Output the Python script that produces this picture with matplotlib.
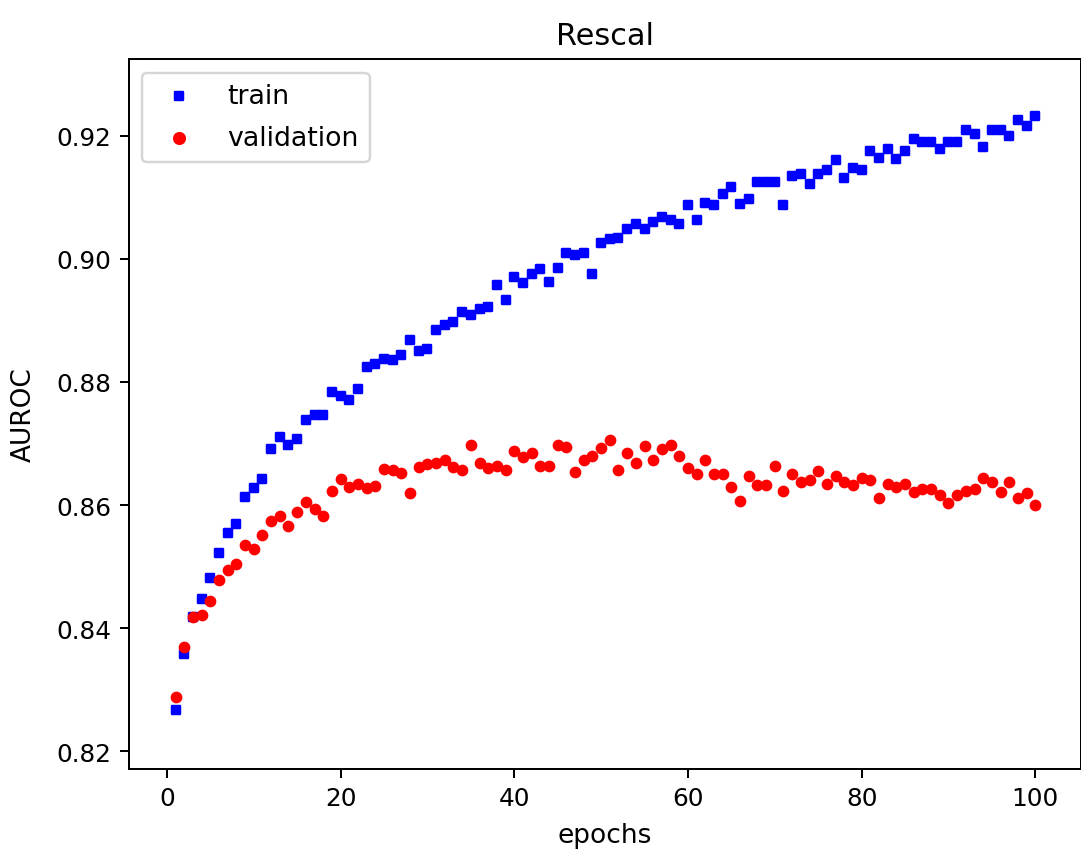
import numpy as np
import matplotlib
matplotlib.use('Agg')
import matplotlib.pyplot as plt

epochs = np.arange(1, 101)

train = [0.8267, 0.8359, 0.8419, 0.8448, 0.8482, 0.8523, 0.8554, 0.8569, 0.8613, 0.8628,
         0.8642, 0.8691, 0.8711, 0.8697, 0.8707, 0.8738, 0.8746, 0.8746, 0.8784, 0.8777,
         0.8770, 0.8788, 0.8825, 0.8830, 0.8838, 0.8835, 0.8844, 0.8868, 0.8850, 0.8854,
         0.8885, 0.8892, 0.8898, 0.8914, 0.8908, 0.8918, 0.8922, 0.8957, 0.8933, 0.8970,
         0.8961, 0.8976, 0.8983, 0.8962, 0.8985, 0.9010, 0.9006, 0.9010, 0.8975, 0.9025,
         0.9032, 0.9034, 0.9048, 0.9057, 0.9049, 0.9060, 0.9068, 0.9063, 0.9056, 0.9088,
         0.9063, 0.9090, 0.9087, 0.9106, 0.9117, 0.9089, 0.9097, 0.9125, 0.9125, 0.9125,
         0.9088, 0.9135, 0.9138, 0.9122, 0.9138, 0.9144, 0.9160, 0.9131, 0.9148, 0.9144,
         0.9175, 0.9163, 0.9179, 0.9162, 0.9175, 0.9194, 0.9190, 0.9190, 0.9179, 0.9190,
         0.9190, 0.9210, 0.9203, 0.9182, 0.9210, 0.9210, 0.9200, 0.9226, 0.9216, 0.9232]

validation = [0.8289, 0.8370, 0.8419, 0.8422, 0.8445, 0.8478, 0.8494, 0.8504, 0.8535, 0.8529,
              0.8551, 0.8575, 0.8583, 0.8566, 0.8589, 0.8605, 0.8594, 0.8583, 0.8623, 0.8642,
              0.8630, 0.8635, 0.8628, 0.8631, 0.8659, 0.8657, 0.8653, 0.8619, 0.8662, 0.8667,
              0.8669, 0.8673, 0.8662, 0.8657, 0.8697, 0.8668, 0.8661, 0.8664, 0.8657, 0.8688,
              0.8678, 0.8685, 0.8664, 0.8664, 0.8697, 0.8695, 0.8654, 0.8673, 0.8680, 0.8692,
              0.8705, 0.8657, 0.8685, 0.8668, 0.8696, 0.8673, 0.8691, 0.8698, 0.8680, 0.8661,
              0.8651, 0.8673, 0.8651, 0.8651, 0.8630, 0.8606, 0.8648, 0.8632, 0.8632, 0.8664,
              0.8623, 0.8651, 0.8638, 0.8641, 0.8655, 0.8635, 0.8648, 0.8638, 0.8633, 0.8644,
              0.8641, 0.8611, 0.8635, 0.8630, 0.8635, 0.8622, 0.8627, 0.8627, 0.8616, 0.8603,
              0.8616, 0.8623, 0.8626, 0.8644, 0.8638, 0.8622, 0.8638, 0.8612, 0.8619, 0.8600]

dpi = 178
fig = plt.figure(figsize=(1081 / dpi, 858 / dpi), dpi=dpi)
ax = fig.add_axes([128.7 / 1081, (858 - 769.7) / 858,
                   (1080.5 - 128.7) / 1081, (769.7 - 60.3) / 858])

ax.scatter(epochs, train, s=10, c='b', marker='s', label='train')
ax.scatter(epochs, validation, s=14, c='r', marker='o', label='validation')

ax.set_xlim(-4.4, 105.2)
ax.set_ylim(0.8172, 0.9324)
ax.set_yticks([0.82, 0.84, 0.86, 0.88, 0.90, 0.92])
ax.set_xlabel('epochs', fontsize=10.7, labelpad=5)
ax.set_ylabel('AUROC', fontsize=10.7, labelpad=8)
ax.set_title('Rescal', fontsize=12.3)
ax.legend(loc='upper left', fontsize=10.8, labelspacing=0.6, markerscale=1.15)

fig.savefig('out.png', dpi=dpi)
